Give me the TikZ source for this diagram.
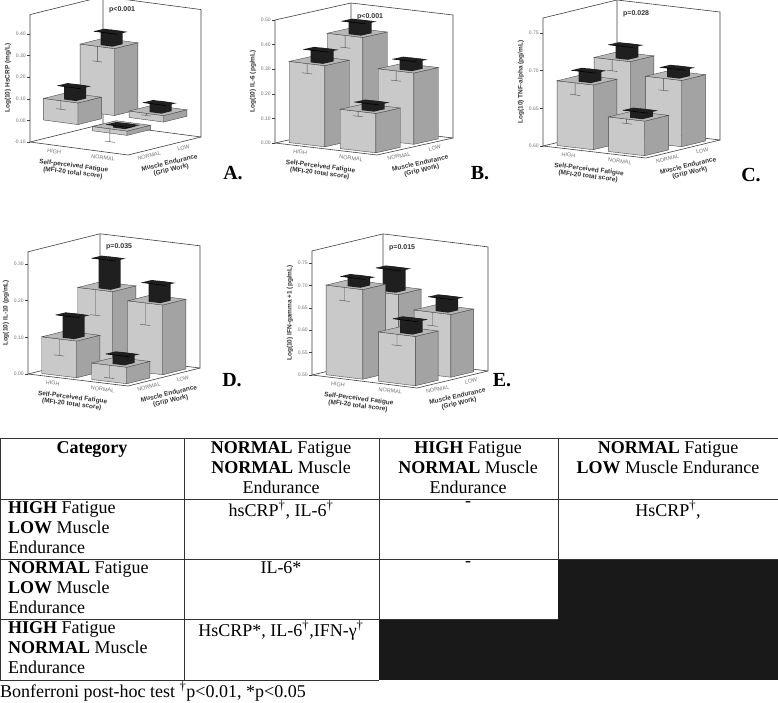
\documentclass[tikz,border=0pt]{standalone}
\usepackage{fontspec}
\setmainfont{Liberation Serif}
\newfontfamily\ars{Liberation Sans}
\usetikzlibrary{calc}
\tikzset{
 ax/.style={draw=black!75,line width=0.6pt},
 tick/.style={font=\ars\fontsize{5}{5.5}\selectfont,text=black!55,anchor=east,inner sep=1pt},
 cat/.style={font=\ars\fontsize{5.5}{6}\selectfont,text=black!55,inner sep=1pt},
 atitle/.style={font=\ars\bfseries\fontsize{6.5}{7}\selectfont,text=black!80,align=center,inner sep=0pt},
 ytitle/.style={font=\ars\bfseries\fontsize{6.5}{7}\selectfont,text=black!80,rotate=90,inner sep=0pt},
 pval/.style={font=\ars\bfseries\fontsize{7}{8}\selectfont,text=black!80,anchor=north west,inner sep=0pt},
 panel/.style={font=\bfseries\fontsize{20}{22}\selectfont,inner sep=0pt},
 ffront/.style={fill=black!21,draw=black!70,line width=0.4pt},
 fside/.style={fill=black!36,draw=black!70,line width=0.4pt},
 ftop/.style={fill=black!28,draw=black!70,line width=0.4pt},
 cell/.style={font=\fontsize{18}{20}\selectfont,align=center,anchor=north,inner sep=0pt},
 rowlab/.style={font=\fontsize{18}{20}\selectfont,align=left,anchor=north west,inner sep=0pt},
 grid/.style={draw=black!80,line width=0.8pt}
}
\newcommand\bbar[5]{%
 \pgfmathsetmacro\bXa{#1*0.5+0.08}\pgfmathsetmacro\bXb{\bXa+0.35}%
 \pgfmathsetmacro\bDa{#2*0.5+0.08}\pgfmathsetmacro\bDb{\bDa+0.32}%
 \pgfmathsetmacro\bLo{min(#3,\zb)-\zm}\pgfmathsetmacro\bHi{max(#3,\zb)-\zm}%
 \pgfmathsetmacro\bEl{#4-\zm}\pgfmathsetmacro\bEu{#5-\zm}%
 \pgfmathsetmacro\bXm{(\bXa+\bXb)/2}%
 \pgfmathsetmacro\bKa{\bXm-0.01}\pgfmathsetmacro\bKb{\bXm+0.11}%
 \pgfmathsetmacro\bKd{\bDa+0.06}\pgfmathsetmacro\bKe{\bDa+0.2}%
 \pgfmathsetmacro\bFa{\bXm-0.08}\pgfmathsetmacro\bFb{\bXm+0.16}%
 \pgfmathsetmacro\bCa{\bXm-0.05}\pgfmathsetmacro\bCb{\bXm+0.05}%
 \path[ffront] (\bXa,\bDa,\bLo)--(\bXb,\bDa,\bLo)--(\bXb,\bDa,\bHi)--(\bXa,\bDa,\bHi)--cycle;
 \path[fside] (\bXb,\bDa,\bLo)--(\bXb,\bDb,\bLo)--(\bXb,\bDb,\bHi)--(\bXb,\bDa,\bHi)--cycle;
 \path[ftop] (\bXa,\bDa,\bHi)--(\bXb,\bDa,\bHi)--(\bXb,\bDb,\bHi)--(\bXa,\bDb,\bHi)--cycle;
 \draw[black!70,line width=0.4pt] (\bXm,\bDa,\bHi)--(\bXm,\bDa,\bEl) (\bCa,\bDa,\bEl)--(\bCb,\bDa,\bEl);
 \fill[black!88] (\bKa,\bKd,\bHi)--(\bKa,\bKd,\bEu)--(\bKa,\bKe,\bEu)--(\bKb,\bKe,\bEu)--(\bKb,\bKe,\bHi)--(\bKb,\bKd,\bHi)--cycle;
 \fill[black!88] (\bFa,\bKd,\bEu)--(\bFb,\bKd,\bEu)--(\bFb,\bKe,\bEu)--(\bFa,\bKe,\bEu)--cycle;
 \draw[black,line width=0.6pt] (\bFa,\bKd,\bEu)--(\bFb,\bKd,\bEu);
}
\newcommand\frameaxes[5]{% #1 T, #2 ticks v/label, #3 ytitle, #4 fatigue title, #5 pval
 \draw[ax] (0,0,0)--(0,0,#1)--(0,1,#1)--(1,1,#1)--(1,1,0)--(1,0,0)--cycle;
 \draw[ax] (0,0,0)--(0,1,0)--(1,1,0) (0,1,0)--(0,1,#1);
 \foreach \v/\l in {#2}{\pgfmathsetmacro\vv{\v-\zm}
   \draw[ax] (0,0,\vv)--++(-3pt,0pt) node[tick]{\l};}
 \node[ytitle] at ($(0,0,#1/2)+(-22pt,0)$) {#3};
 \node[cat,rotate=-7,anchor=north] at ($(0.25,0,0)+(0,-3pt)$) {HIGH};
 \node[cat,rotate=-7,anchor=north] at ($(0.75,0,0)+(0,-3pt)$) {NORMAL};
 \node[cat,rotate=13,anchor=north] at ($(1,0.28,0)+(0,-3pt)$) {NORMAL};
 \node[cat,rotate=13,anchor=north] at ($(1,0.75,0)+(0,-3pt)$) {LOW};
 \node[atitle,rotate=-7,anchor=north] at ($(0.45,0,0)+(0,-15pt)$) {#4\\(MFI-20 total score)};
 \node[atitle,rotate=13,anchor=north] at ($(1,0.56,0)+(0,-15pt)$) {Muscle Endurance\\(Grip Work)};
 \node[pval] at ($(0,1,#1)+(6pt,-10pt)$) {#5};
}
\begin{document}
\begin{tikzpicture}[x=1pt,y=1pt]
\useasboundingbox (0,0) rectangle (778,-702);
\fill[white] (0,0) rectangle (778,-702);
% A
\begin{scope}[shift={(30,-142)},x={(98pt,-13pt)},y={(73pt,18pt)},z={(0pt,216pt)}]
 \def\zm{-0.1}\def\zb{0}
 \frameaxes{0.59}{-0.1/-0.10,0/0.00,0.1/0.10,0.2/0.20,0.3/0.30,0.4/0.40}{Log(10) HsCRP (mg/L)}{Self-perceived Fatigue}{p<0.001}
 \bbar{0}{1}{0.31}{0.24}{0.37}
 \bbar{1}{1}{0.03}{0.02}{0.07}
 \bbar{0}{0}{0.10}{0.06}{0.16}
 \bbar{1}{0}{-0.02}{-0.06}{0.01}
\end{scope}
\node[panel] at (233,-173) {A.};
% B
\begin{scope}[shift={(275,-143)},x={(102pt,-12pt)},y={(76pt,17pt)},z={(0pt,246pt)}]
 \def\zm{0}\def\zb{0}
 \frameaxes{0.5}{0/0.00,0.1/0.10,0.2/0.20,0.3/0.30,0.4/0.40,0.5/0.50}{Log(10) IL-6 (pg/mL)}{Self-Perceived Fatigue}{p<0.001}
 \bbar{0}{1}{0.41}{0.36}{0.46}
 \bbar{1}{1}{0.29}{0.25}{0.33}
 \bbar{0}{0}{0.33}{0.29}{0.38}
 \bbar{1}{0}{0.16}{0.14}{0.19}
\end{scope}
\node[panel] at (480,-173) {B.};
% C
\begin{scope}[shift={(543,-146)},x={(103pt,-12pt)},y={(74pt,18pt)},z={(0pt,753pt)}]
 \def\zm{0.6}\def\zb{0.6}
 \frameaxes{0.17}{0.6/0.60,0.65/0.65,0.7/0.70,0.75/0.75}{Log(10) TNF-alpha (pg/mL)}{Self-Perceived Fatigue}{p=0.028}
 \bbar{0}{1}{0.705}{0.69}{0.722}
 \bbar{1}{1}{0.688}{0.672}{0.70}
 \bbar{0}{0}{0.686}{0.67}{0.70}
 \bbar{1}{0}{0.646}{0.64}{0.655}
\end{scope}
\node[panel] at (751,-175) {C.};
% D
\begin{scope}[shift={(28,-374)},x={(100pt,-12pt)},y={(72pt,18pt)},z={(0pt,367pt)}]
 \def\zm{0}\def\zb{0}
 \frameaxes{0.333}{0/0.00,0.1/0.10,0.2/0.20,0.3/0.30}{Log(10) IL-10 (pg/mL)}{Self-Perceived Fatigue}{p=0.035}
 \bbar{0}{1}{0.21}{0.14}{0.29}
 \bbar{1}{1}{0.19}{0.13}{0.24}
 \bbar{0}{0}{0.10}{0.055}{0.16}
 \bbar{1}{0}{0.045}{0.01}{0.07}
\end{scope}
\node[panel] at (232,-380) {D.};
% E
\begin{scope}[shift={(312,-375)},x={(105pt,-13pt)},y={(71pt,17pt)},z={(0pt,448pt)}]
 \def\zm{0.5}\def\zb{0.5}
 \frameaxes{0.277}{0.5/0.50,0.55/0.55,0.6/0.60,0.65/0.65,0.7/0.70,0.75/0.75}{Log(10) IFN-gamma +1 (pg/mL)}{Self-Perceived Fatigue}{p=0.015}
 \bbar{0}{1}{0.67}{0.62}{0.72}
 \bbar{1}{1}{0.64}{0.61}{0.67}
 \bbar{0}{0}{0.70}{0.67}{0.72}
 \bbar{1}{0}{0.61}{0.585}{0.64}
\end{scope}
\node[panel] at (502,-380) {E.};
% table
\fill[black!90] (558,-559) rectangle (778,-619);
\fill[black!90] (379,-619) rectangle (778,-680);
\draw[grid] (0,-438)--(778,-438) (0,-499)--(778,-499) (0,-559)--(778,-559)
 (0,-619)--(558,-619) (0,-680)--(379,-680);
\draw[grid] (0,-438)--(0,-680) (184,-438)--(184,-680) (379,-438)--(379,-619) (558,-438)--(558,-559) (778,-438)--(778,-559);
\node[cell] (h1) at (92,-441) {\textbf{Category}};
\node[cell] (h2) at (281,-441) {\textbf{NORMAL} Fatigue\\\textbf{NORMAL} Muscle\\Endurance};
\node[cell] (h3) at (468,-441) {\textbf{HIGH} Fatigue\\\textbf{NORMAL} Muscle\\Endurance};
\node[cell] (h4) at (668,-441) {\textbf{NORMAL} Fatigue\\\textbf{LOW} Muscle Endurance};
\node[rowlab] (r1) at (8,-501) {\textbf{HIGH} Fatigue\\\textbf{LOW} Muscle\\Endurance};
\node[rowlab] (r2) at (8,-561) {\textbf{NORMAL} Fatigue\\\textbf{LOW} Muscle\\Endurance};
\node[rowlab] (r3) at (8,-621) {\textbf{HIGH} Fatigue\\\textbf{NORMAL} Muscle\\Endurance};
\node[cell] (c11) at (281,-501) {hsCRP\textsuperscript{†}, IL-6\textsuperscript{†}};
\node[cell] (c12) at (468,-501) {-};
\node[cell] (c13) at (668,-501) {HsCRP\textsuperscript{†},};
\node[cell] (c21) at (281,-561) {IL-6*};
\node[cell] (c22) at (468,-561) {-};
\node[cell] (c31) at (281,-621) {HsCRP*, IL-6\textsuperscript{†},IFN-γ\textsuperscript{†}};
\node[rowlab] (foot) at (0,-682) {Bonferroni post-hoc test \textsuperscript{†}p<0.01, *p<0.05};
\end{tikzpicture}
\end{document}
